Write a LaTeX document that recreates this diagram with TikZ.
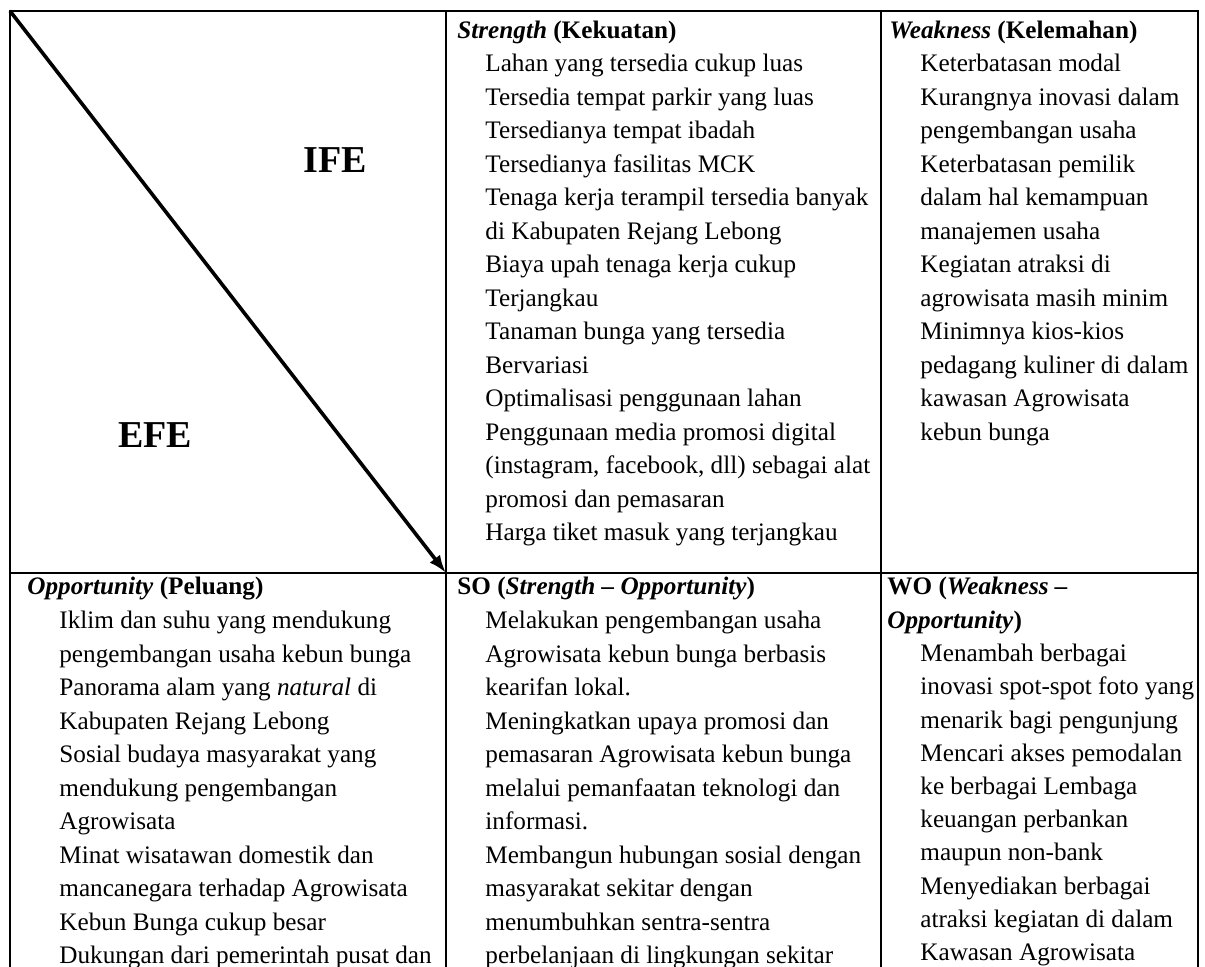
\documentclass[tikz,border=0pt]{standalone}
\usepackage{fontspec}
\setmainfont{Liberation Serif}
\usetikzlibrary{arrows.meta}

\begin{document}
\begin{tikzpicture}[x=0.5pt,y=-0.5pt,
        frame/.style={line width=1.35pt},
        hdr/.style={anchor=base west,inner sep=0pt,font=\fontsize{12.6}{15}\selectfont\bfseries},
        itm/.style={anchor=base west,inner sep=0pt,font=\fontsize{12.6}{15}\selectfont},
        big/.style={inner sep=0pt,font=\fontsize{19}{22}\selectfont\bfseries}]
        \useasboundingbox (0,0) rectangle (1205,967);

        %draw the frame of the matrix
        \coordinate (tl) at (10,11);
        \coordinate (tr) at (1198,11);
        \coordinate (mid) at (446,573);
        \draw[frame] (10,967) -- (tl) -- (tr) -- (1198,967);
        \draw[frame] (446,11) -- (446,967);
        \draw[frame] (881,11) -- (881,967);
        \draw[frame] (10,573) -- (1198,573);

        %diagonal arrow with IFE and EFE
        \draw[line width=1.8pt,-{Latex[length=9pt,width=6.5pt]}] (tl) -- (mid);
        \node[big] (ife) at (335,160) {IFE};
        \node[big] (efe) at (155,435) {EFE};

        %strength
        \node[hdr] (hS) at (457,38.5) {\textit{Strength} (Kekuatan)};
        \foreach \t [count=\i] in {Lahan yang tersedia cukup luas,
            Tersedia tempat parkir yang luas, Tersedianya tempat ibadah,
            Tersedianya fasilitas MCK, Tenaga kerja terampil tersedia banyak,
            di Kabupaten Rejang Lebong, Biaya upah tenaga kerja cukup,
            Terjangkau, Tanaman bunga yang tersedia, Bervariasi,
            Optimalisasi penggunaan lahan, Penggunaan media promosi digital,
            {(instagram, facebook, dll) sebagai alat}, promosi dan pemasaran,
            Harga tiket masuk yang terjangkau}
        \node[itm] (s\i) at (485,{38.5+33.5*\i}) {\t};

        %weakness
        \node[hdr] (hW) at (889,38.5) {\textit{Weakness} (Kelemahan)};
        \foreach \t [count=\i] in {Keterbatasan modal, Kurangnya inovasi dalam,
            pengembangan usaha, Keterbatasan pemilik, dalam hal kemampuan,
            manajemen usaha, Kegiatan atraksi di, agrowisata masih minim,
            Minimnya kios-kios, pedagang kuliner di dalam,
            kawasan Agrowisata, kebun bunga}
        \node[itm] (w\i) at (920,{38.5+33.5*\i}) {\t};

        %opportunity
        \node[hdr] (hO) at (27,595) {\textit{Opportunity} (Peluang)};
        \foreach \t [count=\i] in {Iklim dan suhu yang mendukung,
            pengembangan usaha kebun bunga,
            Panorama alam yang \textit{natural} di,
            Kabupaten Rejang Lebong, Sosial budaya masyarakat yang,
            mendukung pengembangan, Agrowisata,
            Minat wisatawan domestik dan, mancanegara terhadap Agrowisata,
            Kebun Bunga cukup besar, Dukungan dari pemerintah pusat dan}
        \node[itm] (o\i) at (59,{595+33.5*\i}) {\t};

        %strategi SO
        \node[hdr] (hSO) at (457,595) {SO (\textit{Strength -- Opportunity})};
        \foreach \t [count=\i] in {Melakukan pengembangan usaha,
            Agrowisata kebun bunga berbasis, kearifan lokal.,
            Meningkatkan upaya promosi dan,
            pemasaran Agrowisata kebun bunga,
            melalui pemanfaatan teknologi dan, informasi.,
            Membangun hubungan sosial dengan, masyarakat sekitar dengan,
            menumbuhkan sentra-sentra, perbelanjaan di lingkungan sekitar}
        \node[itm] (so\i) at (485,{595+33.5*\i}) {\t};

        %strategi WO
        \node[hdr] (hWO) at (887,595) {WO (\textit{Weakness --}};
        \node[hdr] (hWOb) at (887,628.5) {\textit{Opportunity})};
        \foreach \t [count=\i] in {Menambah berbagai,
            inovasi spot-spot foto yang, menarik bagi pengunjung,
            Mencari akses pemodalan, ke berbagai Lembaga,
            keuangan perbankan, maupun non-bank, Menyediakan berbagai,
            atraksi kegiatan di dalam, Kawasan Agrowisata}
        \node[itm] (wo\i) at (920,{628.5+33.2*\i}) {\t};
\end{tikzpicture}
\end{document}
